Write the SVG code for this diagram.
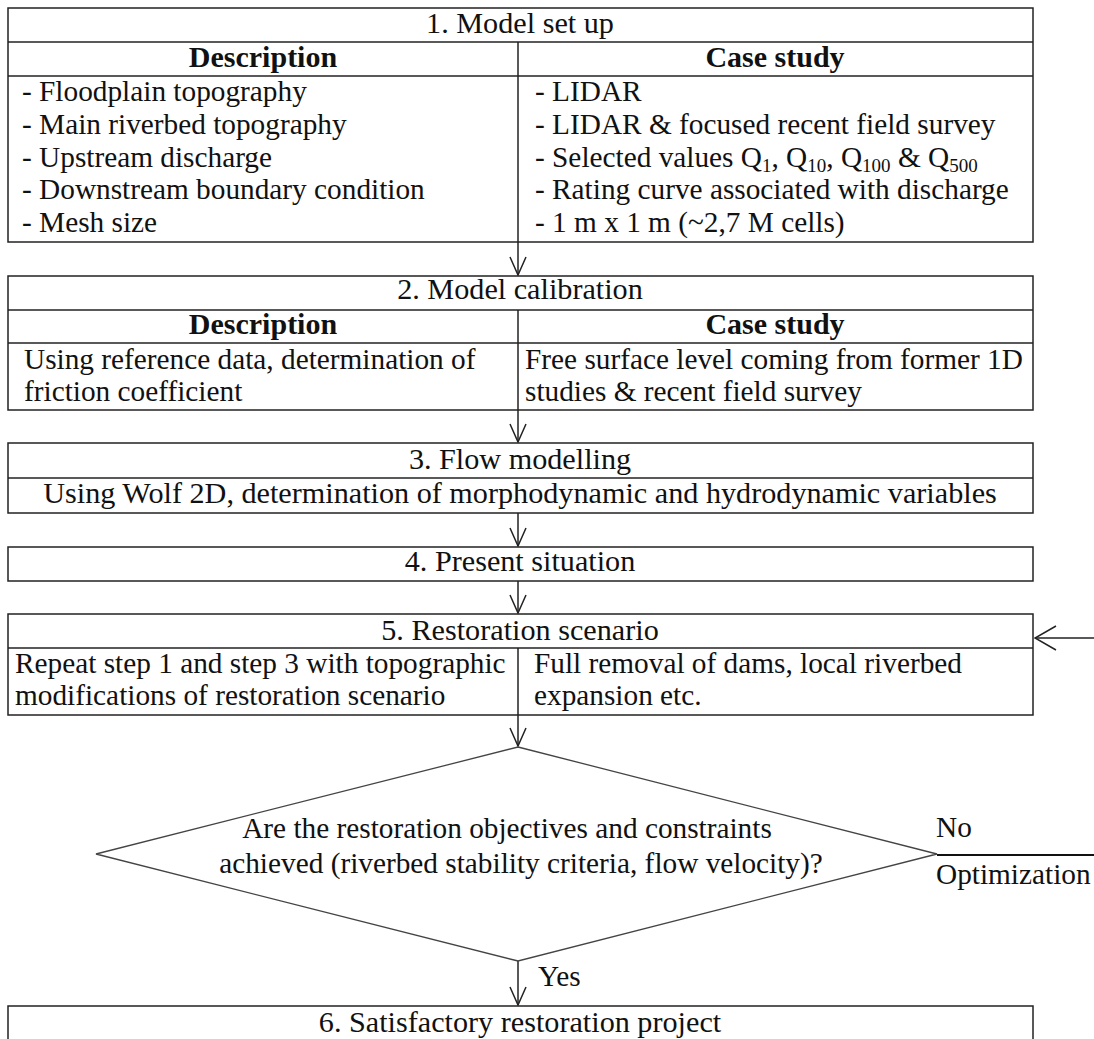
<svg xmlns="http://www.w3.org/2000/svg" width="1094" height="1039" viewBox="0 0 1094 1039">
<defs>
<style>
text{font-family:"Liberation Serif","Times New Roman",serif;font-size:29.3px;fill:#111}
.c{text-anchor:middle}
.t{font-size:30.2px}
.b{font-weight:bold;font-size:30px}
.box{fill:#fff;stroke:#222;stroke-width:1.5}
.ln{stroke:#222;stroke-width:1.5;fill:none}
.con{stroke:#222;stroke-width:1.5;fill:none}
.sub{font-size:19px}
</style>
<marker id="ah" markerUnits="userSpaceOnUse" markerWidth="20" markerHeight="18" viewBox="0 0 20 18" refX="19" refY="9" orient="auto">
<path d="M1,1 L19,9 L1,17" fill="none" stroke="#222" stroke-width="1.5"/>
</marker>
<marker id="ahL" markerUnits="userSpaceOnUse" markerWidth="24" markerHeight="28" viewBox="0 0 24 28" refX="23" refY="14" orient="auto">
<path d="M2,2 L23,14 L2,26" fill="none" stroke="#222" stroke-width="1.5"/>
</marker>
</defs>
<rect width="1094" height="1039" fill="#fff"/>

<g id="connectors">
<line class="con" x1="518" y1="242" x2="518" y2="275" marker-end="url(#ah)"/>
<line class="con" x1="518" y1="410" x2="518" y2="442" marker-end="url(#ah)"/>
<line class="con" x1="518" y1="513" x2="518" y2="546" marker-end="url(#ah)"/>
<line class="con" x1="518" y1="581" x2="518" y2="613" marker-end="url(#ah)"/>
<line class="con" x1="518" y1="715" x2="518" y2="746" marker-end="url(#ah)"/>
<line class="con" x1="518" y1="961" x2="518" y2="1005" marker-end="url(#ah)"/>
<line class="con" x1="1094" y1="638" x2="1035" y2="638" marker-end="url(#ahL)"/>
<line x1="937" y1="855" x2="1094" y2="855" stroke="#111" stroke-width="2.2"/>
<text x="936" y="837">No</text>
<text x="936" y="884">Optimization</text>
<text x="538" y="986">Yes</text>
</g>

<g id="node1">
<rect class="box" x="8" y="8" width="1025" height="234"/>
<line class="ln" x1="8" y1="42" x2="1033" y2="42"/>
<line class="ln" x1="8" y1="76" x2="1033" y2="76"/>
<line class="ln" x1="518" y1="42" x2="518" y2="242"/>
<text class="c t" x="520" y="33">1. Model set up</text>
<text class="c b" x="263" y="67">Description</text>
<text class="c b" x="775" y="67">Case study</text>
<text x="22" y="101">- Floodplain topography</text>
<text x="22" y="134">- Main riverbed topography</text>
<text x="22" y="166.5">- Upstream discharge</text>
<text x="22" y="199">- Downstream boundary condition</text>
<text x="22" y="231.5">- Mesh size</text>
<text x="535" y="101">- LIDAR</text>
<text x="535" y="134">- LIDAR &amp; focused recent field survey</text>
<text x="535" y="166.5">- Selected values Q<tspan class="sub" dy="5">1</tspan><tspan dy="-5">, Q</tspan><tspan class="sub" dy="5">10</tspan><tspan dy="-5">, Q</tspan><tspan class="sub" dy="5">100</tspan><tspan dy="-5"> &amp; Q</tspan><tspan class="sub" dy="5">500</tspan></text>
<text x="535" y="199">- Rating curve associated with discharge</text>
<text x="535" y="231.5">- 1 m x 1 m (~2,7 M cells)</text>
</g>

<g id="node2">
<rect class="box" x="8" y="276" width="1025" height="134"/>
<line class="ln" x1="8" y1="310" x2="1033" y2="310"/>
<line class="ln" x1="8" y1="343" x2="1033" y2="343"/>
<line class="ln" x1="518" y1="310" x2="518" y2="410"/>
<text class="c t" x="520" y="299">2. Model calibration</text>
<text class="c b" x="263" y="334">Description</text>
<text class="c b" x="775" y="334">Case study</text>
<text x="24" y="369">Using reference data, determination of</text>
<text x="24" y="401">friction coefficient</text>
<text x="525" y="369">Free surface level coming from former 1D</text>
<text x="525" y="401">studies &amp; recent field survey</text>
</g>

<g id="node3">
<rect class="box" x="8" y="443" width="1025" height="70"/>
<line class="ln" x1="8" y1="478" x2="1033" y2="478"/>
<text class="c t" x="520" y="469">3. Flow modelling</text>
<text class="c t" x="520" y="503">Using Wolf 2D, determination of morphodynamic and hydrodynamic variables</text>
</g>

<g id="node4">
<rect class="box" x="8" y="547" width="1025" height="34"/>
<text class="c t" x="520" y="571">4. Present situation</text>
</g>

<g id="node5">
<rect class="box" x="8" y="614" width="1025" height="101"/>
<line class="ln" x1="8" y1="648" x2="1033" y2="648"/>
<line class="ln" x1="518" y1="648" x2="518" y2="715"/>
<text class="c t" x="520" y="640">5. Restoration scenario</text>
<text x="15" y="673">Repeat step 1 and step 3 with topographic</text>
<text x="15" y="705">modifications of restoration scenario</text>
<text x="534" y="673">Full removal of dams, local riverbed</text>
<text x="534" y="705">expansion etc.</text>
</g>

<g id="decision">
<polygon points="518,747 937,854 518,961 96,854" fill="#fff" stroke="#444" stroke-width="1.3"/>
<text class="c" x="507" y="838">Are the restoration objectives and constraints</text>
<text class="c" x="521" y="873">achieved (riverbed stability criteria, flow velocity)?</text>
</g>

<g id="node6">
<rect class="box" x="8" y="1006" width="1025" height="60"/>
<text class="c t" x="520" y="1032">6. Satisfactory restoration project</text>
</g>
</svg>
